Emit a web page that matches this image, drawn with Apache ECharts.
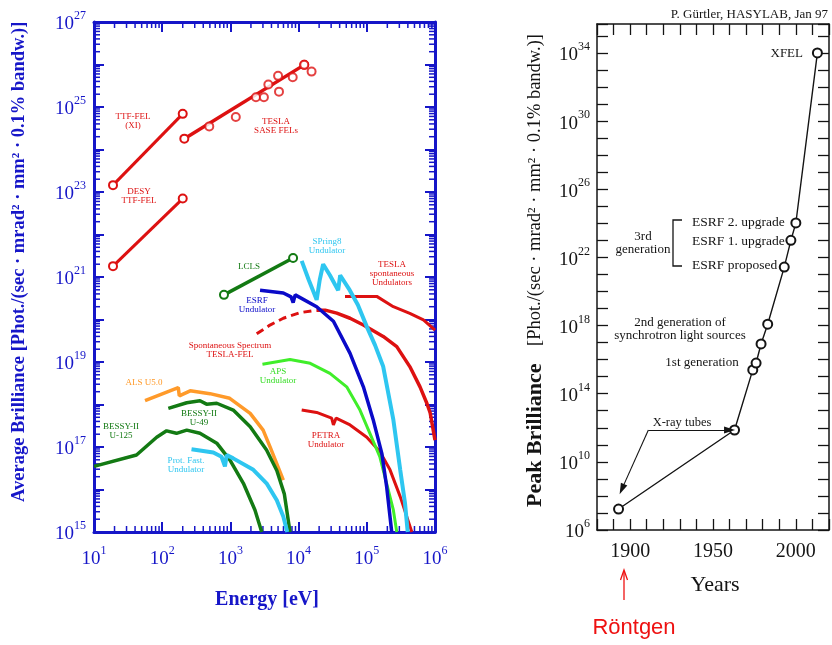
<!DOCTYPE html>
<html><head><meta charset="utf-8">
<script src="https://cdn.jsdelivr.net/npm/echarts@6/dist/echarts.min.js"></script>
<style>html,body{margin:0;padding:0;background:#fff}#c{width:832px;height:645px}</style>
</head><body><div id="c"></div>
<script>
// ---------- Left panel data: [energy eV, average brilliance] ----------
const ttfFelXI      = [[19, 1.45e23], [200, 6.9e24]];
const desyTtfFel    = [[19, 1.8e21], [200, 7.0e22]];
const teslaSaseLine = [[211, 1.8e24], [12100, 9.8e25]];
const teslaSasePts  = [[490, 3.5e24], [1200, 5.8e24], [2370, 1.7e25], [3100, 1.7e25], [3600, 3.4e25],
                       [5160, 2.3e25], [5000, 5.4e25], [8200, 5.0e25], [12100, 9.8e25], [15500, 6.8e25]];
const lcls          = [[805, 3.8e20], [8300, 2.8e21]];
const spring8       = [[11100, 2.4e21], [14100, 8.5e20], [18400, 2.9e20], [20400, 8.5e20], [22900, 2.0e21],
                       [28800, 1.1e21], [38000, 4.9e20], [40700, 1.1e21], [56200, 4.9e20], [74100, 2.2e20],
                       [1.0e5, 6.8e19], [1.32e5, 2.5e19], [1.74e5, 7.8e18], [2.45e5, 4.4e17], [3.09e5, 2.9e16],
                       [3.63e5, 4.8e15], [3.98e5, 1e15]];
const esrf          = [[2720, 4.9e20], [5970, 4.2e20], [7760, 3.4e20], [8320, 2.5e20], [8910, 3.8e20],
                       [18400, 2.0e20], [32400, 9.1e19], [56800, 1.6e19], [89100, 2.6e18], [1.24e5, 4.4e17],
                       [1.66e5, 7.1e16], [1.95e5, 1.2e16], [2.32e5, 1e15]];
const teslaSpont    = [[47900, 3.5e20], [1.40e5, 3.5e20], [2.45e5, 2.0e20], [4.27e5, 1.4e20], [6.76e5, 9.8e19], [1e6, 5.6e19]];
const spontDashed   = [[2430, 4.6e19], [3800, 7.4e19], [5970, 1.07e20], [10500, 1.45e20], [18400, 1.66e20]];
const spontSolid    = [[18400, 1.66e20], [24500, 1.66e20], [36300, 1.41e20], [56800, 1.07e20], [89100, 7.4e19],
                       [1.74e5, 4.0e19], [2.75e5, 2.3e19], [4.27e5, 7.8e18], [6.03e5, 2.6e18], [7.59e5, 1.07e18],
                       [8.5e5, 6.3e17], [1e6, 1.45e17]];
const aps           = [[2950, 8.9e18], [7480, 1.15e19], [14800, 9.3e18], [28800, 5.4e18], [50700, 2.6e18],
                       [79400, 7.4e17], [1.11e5, 2.1e17], [1.55e5, 5.9e16], [1.95e5, 1.4e16], [2.45e5, 3.3e15], [2.75e5, 1e15]];
const petra         = [[11100, 7.4e17], [18400, 6.5e17], [30500, 4.8e17], [32400, 3.3e17], [35500, 4.8e17],
                       [56800, 3.3e17], [1.0e5, 1.7e17], [1.55e5, 7.8e16], [2.19e5, 2.9e16], [3.09e5, 6.8e15], [4.57e5, 1e15]];
const alsU50        = [[56, 1.23e18], [172, 2.5e18], [178, 1.6e18], [257, 2.1e18], [501, 1.8e18], [977, 1.4e18],
                       [1950, 6.2e17], [3020, 2.5e17], [3800, 1.02e17], [5970, 1.66e16]];
const bessyU49      = [[123, 8.1e17], [229, 1.1e18], [358, 1.23e18], [447, 1.02e18], [631, 1.07e18], [1100, 7.4e17],
                       [1950, 3.0e17], [3390, 8.5e16], [4790, 2.8e16], [6170, 7.9e15], [7480, 1e15]];
const bessyU125     = [[10, 3.5e16], [42, 6.5e16], [83, 1.7e17], [116, 2.4e17], [162, 2.1e17], [229, 2.5e17],
                       [358, 2.1e17], [631, 1.23e17], [986, 4.9e16], [1550, 1.4e16], [2290, 3.3e15], [2880, 1e15]];
const protFast      = [[269, 8.9e16], [562, 7.4e16], [741, 5.9e16], [832, 3.5e16], [883, 6.5e16], [1100, 5.4e16],
                       [2170, 2.9e16], [3390, 1.4e16], [4790, 5.6e15], [5970, 2.3e15], [6820, 1e15]];

// ---------- Right panel data: [year, peak brilliance] ----------
const peakHistory = [[1893, 1.7e7], [1963, 7.4e11], [1974, 2.5e15], [1976, 6.3e15], [1979, 8.3e16],
                     [1983, 1.2e18], [1993, 2.7e21], [1997, 1.0e23], [2000, 1.05e24], [2013, 1.0e34]];

// ---------- tick helpers ----------
const xMinorTicks = []; for (let k = 1; k < 6; k++) for (let m = 2; m < 10; m++) xMinorTicks.push(m * Math.pow(10, k));
const yMinorTicks = []; for (let k = 15; k < 27; k++) for (let m = 2; m < 10; m++) yMinorTicks.push(m * Math.pow(10, k));

const BLUE = '#1616c8', RED = '#dd1111', DKGREEN = '#137a13', LTBLUE = '#2ec6f0', GREEN = '#40ee2a', ORANGE = '#ff9a2a';
const SERIF = 'Liberation Serif', BLACK = '#141414';

const exp10 = v => Math.round(Math.log10(v));
const supRich = color => ({
  b: {fontFamily: SERIF, fontSize: 19, color: color, lineHeight: 24, verticalAlign: 'bottom'},
  s: {fontFamily: SERIF, fontSize: 12, color: color, lineHeight: 12, verticalAlign: 'top'}
});

function line(data, color, width, extra) {
  return Object.assign({type: 'line', xAxisIndex: 0, yAxisIndex: 0, data: data, symbol: 'none', showSymbol: false,
    lineStyle: {color: color, width: width}, itemStyle: {color: color}, silent: true, z: 3}, extra || {});
}
function felLine(data) {
  return line(data, RED, 3, {symbol: 'emptyCircle', showSymbol: true, symbolSize: 8, itemStyle: {color: RED, borderWidth: 2}});
}

const chart = echarts.init(document.getElementById('c'));

const leftAxisCommon = {
  axisLine: {show: true, onZero: false, lineStyle: {color: BLUE, width: 3}},
  axisTick: {show: true, inside: true, length: 10, lineStyle: {color: BLUE, width: 2}},
  splitLine: {show: false}
};
const rightAxisCommon = {
  axisLine: {show: true, onZero: false, lineStyle: {color: BLACK, width: 1.5}},
  axisTick: {show: true, inside: true, length: 11, lineStyle: {color: BLACK, width: 1.3}},
  splitLine: {show: false}
};

function txt(x, y, text, color, size, align, extra) {
  return {type: 'text', x: x, y: y, silent: true, z: 10, style: Object.assign({text: text, fill: color,
    font: (size || 9) + 'px "' + SERIF + '"', textAlign: align || 'center', textVerticalAlign: 'middle',
    lineHeight: Math.round((size || 9) * 1.0)}, extra || {})};
}

const option = {
  animation: false,
  backgroundColor: '#fff',
  grid: [
    {left: 94, top: 22, width: 341, height: 510},
    {left: 597, top: 24, width: 233, height: 506}
  ],
  xAxis: [
    Object.assign({gridIndex: 0, type: 'log', logBase: 10, min: 10, max: 1e6, interval: 1, position: 'bottom',
      axisLabel: {margin: 13, formatter: v => '{b|10}{s|' + exp10(v) + '}', rich: supRich(BLUE)}}, leftAxisCommon),
    Object.assign({gridIndex: 0, type: 'log', logBase: 10, min: 10, max: 1e6, interval: 1, position: 'top',
      axisLabel: {show: false}}, leftAxisCommon),
    Object.assign({gridIndex: 1, type: 'value', min: 1880, max: 2020, interval: 10, position: 'bottom',
      axisLabel: {margin: 12, color: BLACK, fontFamily: SERIF, fontSize: 20,
        formatter: v => (v >= 1900 && v % 50 === 0) ? String(v) : ''}}, rightAxisCommon),
    Object.assign({gridIndex: 1, type: 'value', min: 1880, max: 2020, interval: 10, position: 'top',
      axisLabel: {show: false}}, rightAxisCommon)
  ],
  yAxis: [
    Object.assign({gridIndex: 0, type: 'log', logBase: 10, min: 1e15, max: 1e27, interval: 1, position: 'left',
      axisLabel: {margin: 8, formatter: v => { const e = exp10(v); return e % 2 === 1 ? '{b|10}{s|' + e + '}' : ''; }, rich: supRich(BLUE)}}, leftAxisCommon),
    Object.assign({gridIndex: 0, type: 'log', logBase: 10, min: 1e15, max: 1e27, interval: 1, position: 'right',
      axisLabel: {show: false}}, leftAxisCommon),
    Object.assign({gridIndex: 1, type: 'log', logBase: 10, min: 1e6, max: Math.pow(10, 35.7), interval: 1, position: 'left',
      axisLabel: {margin: 7, formatter: v => { const e = exp10(v); return (e - 6) % 4 === 0 && e <= 34 ? '{b|10}{s|' + e + '}' : ''; }, rich: supRich(BLACK)}}, rightAxisCommon),
    Object.assign({gridIndex: 1, type: 'log', logBase: 10, min: 1e6, max: Math.pow(10, 35.7), interval: 1, position: 'right',
      axisLabel: {show: false}}, rightAxisCommon)
  ],
  series: [
    {type: 'custom', xAxisIndex: 0, yAxisIndex: 0, silent: true, z: 2, data: xMinorTicks.map(v => [v, 1e20]),
      renderItem: (params, api) => {
        const v = api.value(0), b = api.coord([v, 1e15]), t = api.coord([v, 1e27]);
        return {type: 'group', children: [
          {type: 'line', shape: {x1: b[0], y1: b[1], x2: b[0], y2: b[1] - 6}, style: {stroke: BLUE, lineWidth: 1.5}},
          {type: 'line', shape: {x1: t[0], y1: t[1], x2: t[0], y2: t[1] + 6}, style: {stroke: BLUE, lineWidth: 1.5}}]};
      }},
    {type: 'custom', xAxisIndex: 0, yAxisIndex: 0, silent: true, z: 2, data: yMinorTicks.map(v => [100, v]),
      renderItem: (params, api) => {
        const v = api.value(1), l = api.coord([10, v]), r = api.coord([1e6, v]);
        return {type: 'group', children: [
          {type: 'line', shape: {x1: l[0], y1: l[1], x2: l[0] + 6, y2: l[1]}, style: {stroke: BLUE, lineWidth: 1.5}},
          {type: 'line', shape: {x1: r[0], y1: r[1], x2: r[0] - 6, y2: r[1]}, style: {stroke: BLUE, lineWidth: 1.5}}]};
      }},
    felLine(ttfFelXI),
    felLine(desyTtfFel),
    line(teslaSaseLine, RED, 3.5, {symbol: 'emptyCircle', showSymbol: true, symbolSize: 8, itemStyle: {color: RED, borderWidth: 2}}),
    {type: 'scatter', xAxisIndex: 0, yAxisIndex: 0, data: teslaSasePts, symbol: 'emptyCircle', symbolSize: 8,
      itemStyle: {color: RED, borderWidth: 2}, silent: true, z: 4},
    line(lcls, DKGREEN, 3.5, {symbol: 'emptyCircle', showSymbol: true, symbolSize: 8, itemStyle: {color: DKGREEN, borderWidth: 2}}),
    line(teslaSpont, RED, 3),
    line(spontDashed, RED, 3, {lineStyle: {color: RED, width: 3, type: [8, 5]}}),
    line(spontSolid, RED, 3.5),
    line(petra, RED, 3),
    line(aps, GREEN, 3),
    line(esrf, '#0a0ac8', 3.5),
    line(spring8, LTBLUE, 4),
    line(alsU50, ORANGE, 3.5),
    line(bessyU49, DKGREEN, 3.5),
    line(bessyU125, DKGREEN, 3.5),
    line(protFast, LTBLUE, 4),
    {type: 'line', xAxisIndex: 2, yAxisIndex: 2, data: peakHistory, symbol: 'emptyCircle', symbolSize: 9, showSymbol: true,
      lineStyle: {color: BLACK, width: 1.4}, itemStyle: {color: BLACK, borderWidth: 1.3}, silent: true, z: 4,
      markLine: {silent: true, symbol: ['none', 'triangle'], symbolSize: [7, 11], label: {show: false},
        lineStyle: {color: BLACK, width: 1.1, type: 'solid'},
        data: [
          [{coord: [1911, 7.4e11]}, {coord: [1960, 7.4e11]}],
          [{coord: [1911, 7.4e11]}, {coord: [1895, 2.5e8]}]
        ]}}
  ],
  graphic: [
    // left axis titles
    txt(267, 600, 'Energy [eV]', BLUE, 20, 'center', {font: 'bold 20px "' + SERIF + '"'}),
    {type: 'text', x: 19, y: 502, rotation: Math.PI / 2, silent: true,
      style: {text: 'Average Brilliance [Phot./(sec · mrad² · mm² · 0.1% bandw.)]', fill: BLUE,
        font: 'bold 18.5px "' + SERIF + '"', textAlign: 'left', textVerticalAlign: 'middle'}},
    // left annotations
    txt(133, 121, 'TTF-FEL\n(XI)', RED),
    txt(139, 196, 'DESY\nTTF-FEL', RED),
    txt(276, 126, 'TESLA\nSASE FELs', RED),
    txt(327, 246, 'SPring8\nUndulator', LTBLUE),
    txt(249, 267, 'LCLS', DKGREEN),
    txt(257, 305, 'ESRF\nUndulator', '#0a0ac8'),
    txt(392, 274, 'TESLA\nspontaneous\nUndulators', RED),
    txt(230, 350, 'Spontaneous Spectrum\nTESLA-FEL', RED),
    txt(278, 376, 'APS\nUndulator', '#33dd22'),
    txt(144, 383, 'ALS U5.0', ORANGE),
    txt(199, 418, 'BESSY-II\nU-49', DKGREEN),
    txt(121, 431, 'BESSY-II\nU-125', DKGREEN),
    txt(186, 465, 'Prot. Fast.\nUndulator', LTBLUE),
    txt(326, 440, 'PETRA\nUndulator', RED),
    // right panel texts
    txt(828, 15, 'P. Gürtler, HASYLAB, Jan 97', BLACK, 13, 'right'),
    txt(803, 54, 'XFEL', BLACK, 13, 'right'),
    txt(692, 222, 'ESRF 2. upgrade', BLACK, 13.5, 'left'),
    txt(692, 241, 'ESRF 1. upgrade', BLACK, 13.5, 'left'),
    txt(692, 265, 'ESRF proposed', BLACK, 13.5, 'left'),
    txt(643, 243.5, '3rd\ngeneration', BLACK, 13, 'center', {lineHeight: 13}),
    {type: 'polyline', silent: true, shape: {points: [[682, 220], [673, 220], [673, 266], [682, 266]]},
      style: {stroke: BLACK, lineWidth: 1.3, fill: null}},
    txt(680, 329.5, '2nd generation of\nsynchrotron light sources', BLACK, 13, 'center', {lineHeight: 13}),
    txt(702, 363, '1st generation', BLACK, 13),
    txt(682, 423, 'X-ray tubes', BLACK, 12.5),
    // right titles
    txt(715, 585, 'Years', BLACK, 22),
    {type: 'text', x: 535, y: 507, rotation: Math.PI / 2, silent: true,
      style: {text: 'Peak Brilliance', fill: BLACK, font: 'bold 22px "' + SERIF + '"', textAlign: 'left', textVerticalAlign: 'middle'}},
    {type: 'text', x: 535, y: 346, rotation: Math.PI / 2, silent: true,
      style: {text: '[Phot./(sec · mrad² · mm² · 0.1% bandw.)]', fill: BLACK, font: '18.5px "' + SERIF + '"', textAlign: 'left', textVerticalAlign: 'middle'}},
    // Röntgen
    {type: 'line', silent: true, shape: {x1: 624, y1: 600, x2: 624, y2: 571}, style: {stroke: '#ee1111', lineWidth: 1.3}},
    {type: 'polyline', silent: true, shape: {points: [[620.5, 580], [624, 570], [627.5, 580]]}, style: {stroke: '#ee1111', lineWidth: 1.3, fill: null}},
    {type: 'text', x: 634, y: 628, silent: true, style: {text: 'Röntgen', fill: '#ee1111', font: '22px "Liberation Sans"', textAlign: 'center', textVerticalAlign: 'middle'}}
  ]
};
chart.setOption(option);
</script>
</body></html>
